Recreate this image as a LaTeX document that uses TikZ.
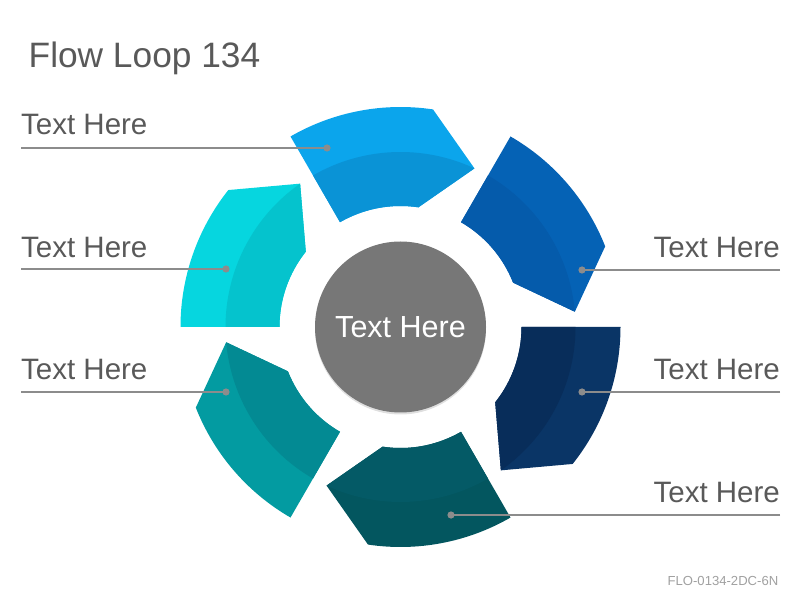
\documentclass[tikz,border=0pt]{standalone}
\usepackage{fontspec}
\setmainfont{Liberation Sans}
\usetikzlibrary{shadows}
\definecolor{topO}{HTML}{0BA5EC}
\definecolor{topI}{HTML}{0A93D6}
\definecolor{urO}{HTML}{0562B5}
\definecolor{urI}{HTML}{055BAB}
\definecolor{rtO}{HTML}{0A3566}
\definecolor{rtI}{HTML}{082D5A}
\definecolor{btO}{HTML}{03565F}
\definecolor{btI}{HTML}{045A66}
\definecolor{llO}{HTML}{039BA1}
\definecolor{llI}{HTML}{038A93}
\definecolor{lfO}{HTML}{06D6DF}
\definecolor{lfI}{HTML}{05C3CD}
\definecolor{cgray}{HTML}{777777}
\definecolor{tgray}{HTML}{595959}
\definecolor{lgray}{HTML}{8C8C8C}
\definecolor{fgray}{HTML}{A0A0A0}
\tikzset{
  lbl/.style={inner sep=0pt, text=tgray, font=\fontsize{29.5}{32}\selectfont},
  leader/.style={draw=lgray, line width=2.6pt},
  dotmark/.style={fill=lgray}
}
\begin{document}
\begin{tikzpicture}[x=1pt,y=1pt]
\useasboundingbox (0,0) rectangle (800,600);
\coordinate (C) at (400.5,273);
% segments
\begin{scope}[shift={(C)}]
\foreach \a/\co/\ci in {120/topO/topI, 60/urO/urI, 0/rtO/rtI, -60/btO/btI, -120/llO/llI, 180/lfO/lfI}{
  \fill[\co] (\a:121) -- (\a:220) arc[start angle=\a, end angle=\a-38.5, radius=220]
     -- (\a-55:175) -- (\a-38.5:121) arc[start angle=\a-38.5, end angle=\a, radius=121] -- cycle;
  \fill[\ci] (\a:121) -- (\a:175) arc[start angle=\a, end angle=\a-55, radius=175]
     -- (\a-38.5:121) arc[start angle=\a-38.5, end angle=\a, radius=121] -- cycle;
}
\end{scope}
% centre
\node[circle, fill=cgray, minimum size=171, inner sep=0pt, text=white,
      font=\fontsize{30.5}{32}\selectfont,
      drop shadow={opacity=0.25, shadow xshift=0pt, shadow yshift=-2pt}] (center) at (C) {Text Here};
% title and footer
\node[anchor=base west, inner sep=0pt, text=tgray, font=\fontsize{35.3}{40}\selectfont] (title) at (28.5,532.5) {Flow Loop 134};
\node[anchor=base east, inner sep=0pt, text=fgray, font=\fontsize{13.1}{15}\selectfont] (footer) at (778.5,15) {FLO-0134-2DC-6N};
% labels
\node[lbl, anchor=base west] (t1) at (21,465) {Text Here};
\node[lbl, anchor=base west] (t2) at (21,342) {Text Here};
\node[lbl, anchor=base west] (t3) at (21,220) {Text Here};
\node[lbl, anchor=base east] (t4) at (780,342) {Text Here};
\node[lbl, anchor=base east] (t5) at (780,220) {Text Here};
\node[lbl, anchor=base east] (t6) at (780,98) {Text Here};
% leader coordinates
\coordinate (d1) at (327,452); \coordinate (e1) at (21,452);
\coordinate (d2) at (226,331); \coordinate (e2) at (21,331);
\coordinate (d3) at (226,208); \coordinate (e3) at (21,208);
\coordinate (d4) at (582,330); \coordinate (e4) at (780,330);
\coordinate (d5) at (582,208); \coordinate (e5) at (780,208);
\coordinate (d6) at (451,85);  \coordinate (e6) at (780,85);
\foreach \i in {1,...,6}{
  \draw[leader] (e\i) -- (d\i);
  \fill[dotmark] (d\i) circle[radius=3.6];
}
\end{tikzpicture}
\end{document}
